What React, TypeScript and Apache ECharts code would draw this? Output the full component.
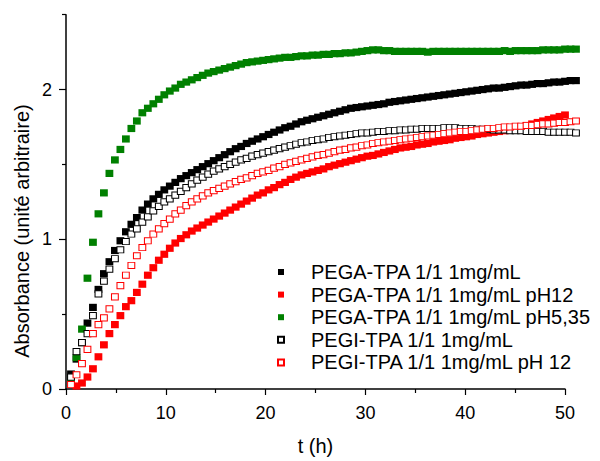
import React, { useEffect, useRef } from "react";
import * as echarts from "echarts";

const times = [
  0.5, 1.05, 1.6, 2.15, 2.7, 3.25, 3.8, 4.35, 4.9, 5.45,
  6.0, 6.55, 7.1, 7.65, 8.2, 8.75, 9.3, 9.85, 10.4, 10.95,
  11.5, 12.05, 12.6, 13.15, 13.7, 14.25, 14.8, 15.35, 15.9, 16.45,
  17.0, 17.55, 18.1, 18.65, 19.2, 19.75, 20.3, 20.85, 21.4, 21.95,
  22.5, 23.05, 23.6, 24.15, 24.7, 25.25, 25.8, 26.35, 26.9, 27.45,
  28.0, 28.55, 29.1, 29.65, 30.2, 30.75, 31.3, 31.85, 32.4, 32.95,
  33.5, 34.05, 34.6, 35.15, 35.7, 36.25, 36.8, 37.35, 37.9, 38.45,
  39.0, 39.55, 40.1, 40.65, 41.2, 41.75, 42.3, 42.85, 43.4, 43.95,
  44.5, 45.05, 45.6, 46.15, 46.7, 47.25, 47.8, 48.35, 48.9, 49.45,
  50.0, 50.55, 51.1,
];

const pegaTpa = [
  0.10, 0.20, 0.31, 0.44, 0.545, 0.665, 0.77, 0.85, 0.925, 0.99,
  1.05, 1.10, 1.145, 1.195, 1.235, 1.27, 1.30, 1.33, 1.355, 1.38,
  1.405, 1.425, 1.445, 1.465, 1.485, 1.505, 1.525, 1.545, 1.565, 1.585,
  1.605, 1.62, 1.64, 1.655, 1.67, 1.685, 1.70, 1.715, 1.73, 1.745,
  1.755, 1.77, 1.785, 1.795, 1.805, 1.815, 1.825, 1.835, 1.845, 1.855,
  1.865, 1.875, 1.88, 1.885, 1.89, 1.895, 1.90, 1.905, 1.915, 1.92,
  1.925, 1.93, 1.935, 1.94, 1.945, 1.95, 1.955, 1.96, 1.965, 1.97,
  1.975, 1.98, 1.985, 1.99, 1.995, 2.0, 2.005, 2.01, 2.01, 2.015,
  2.02, 2.025, 2.03, 2.03, 2.035, 2.04, 2.04, 2.045, 2.05, 2.05,
  2.055, 2.06, 2.06,
];

const pegaTpaPH12 = [
  null, 0.02, 0.04, 0.08, 0.135, 0.215, 0.295, 0.37, 0.43, 0.49,
  0.55, 0.59, 0.645, 0.70, 0.76, 0.81, 0.86, 0.90, 0.94, 0.975,
  1.005, 1.03, 1.055, 1.075, 1.095, 1.115, 1.135, 1.155, 1.175, 1.195,
  1.215, 1.235, 1.255, 1.275, 1.295, 1.31, 1.33, 1.345, 1.365, 1.38,
  1.40, 1.415, 1.43, 1.44, 1.45, 1.46, 1.47, 1.485, 1.495, 1.505,
  1.515, 1.525, 1.535, 1.545, 1.555, 1.56, 1.57, 1.58, 1.59, 1.60,
  1.61, 1.615, 1.62, 1.63, 1.635, 1.64, 1.65, 1.655, 1.66, 1.665,
  1.675, 1.68, 1.685, 1.69, 1.70, 1.705, 1.71, 1.715, 1.72, 1.725,
  1.735, 1.74, 1.75, 1.76, 1.77, 1.78, 1.79, 1.80, 1.81, 1.82,
  1.83, null, null,
];

const pegaTpaPH535 = [
  0.07, 0.21, 0.40, 0.74, 0.98, 1.17, 1.31, 1.44, 1.53, 1.60,
  1.67, 1.74, 1.79, 1.845, 1.875, 1.905, 1.935, 1.965, 1.99, 2.01,
  2.035, 2.05, 2.065, 2.08, 2.095, 2.11, 2.12, 2.13, 2.14, 2.15,
  2.16, 2.17, 2.18, 2.185, 2.19, 2.195, 2.20, 2.205, 2.21, 2.215,
  2.215, 2.22, 2.225, 2.225, 2.23, 2.23, 2.235, 2.235, 2.24, 2.24,
  2.245, 2.245, 2.25, 2.255, 2.26, 2.265, 2.265, 2.26, 2.26, 2.255,
  2.255, 2.255, 2.255, 2.255, 2.255, 2.25, 2.255, 2.255, 2.255, 2.255,
  2.255, 2.255, 2.255, 2.255, 2.255, 2.255, 2.255, 2.255, 2.255, 2.26,
  2.255, 2.26, 2.26, 2.26, 2.26, 2.26, 2.265, 2.265, 2.265, 2.265,
  2.27, 2.27, 2.27,
];

const pegiTpa = [
  0.08, 0.25, 0.31, 0.37, 0.49, 0.635, 0.72, 0.80, 0.87, 0.93,
  0.985, 1.035, 1.07, 1.115, 1.15, 1.19, 1.22, 1.25, 1.27, 1.295,
  1.32, 1.345, 1.37, 1.395, 1.415, 1.435, 1.455, 1.47, 1.485, 1.50,
  1.515, 1.53, 1.54, 1.555, 1.565, 1.575, 1.585, 1.595, 1.605, 1.615,
  1.625, 1.635, 1.645, 1.65, 1.66, 1.665, 1.67, 1.68, 1.685, 1.69,
  1.695, 1.70, 1.705, 1.71, 1.71, 1.715, 1.72, 1.72, 1.725, 1.725,
  1.73, 1.73, 1.735, 1.735, 1.74, 1.74, 1.74, 1.74, 1.745, 1.745,
  1.745, 1.74, 1.74, 1.74, 1.735, 1.735, 1.735, 1.73, 1.73, 1.73,
  1.725, 1.725, 1.725, 1.72, 1.72, 1.72, 1.72, 1.715, 1.715, 1.715,
  1.715, 1.715, 1.71,
];

const pegiTpaPH12 = [
  0.03, 0.095, 0.17, 0.265, 0.37, 0.43, 0.475, 0.535, 0.615, 0.69,
  0.76, 0.825, 0.89, 0.945, 0.99, 1.035, 1.07, 1.105, 1.135, 1.17,
  1.195, 1.225, 1.25, 1.27, 1.29, 1.31, 1.325, 1.34, 1.355, 1.37,
  1.385, 1.40, 1.41, 1.425, 1.44, 1.45, 1.46, 1.475, 1.485, 1.50,
  1.51, 1.52, 1.53, 1.54, 1.55, 1.56, 1.565, 1.575, 1.585, 1.595,
  1.60, 1.61, 1.615, 1.625, 1.63, 1.64, 1.645, 1.65, 1.655, 1.66,
  1.665, 1.67, 1.675, 1.68, 1.685, 1.69, 1.695, 1.70, 1.705, 1.71,
  1.715, 1.72, 1.72, 1.725, 1.73, 1.735, 1.74, 1.74, 1.745, 1.75,
  1.75, 1.755, 1.755, 1.76, 1.76, 1.765, 1.77, 1.77, 1.775, 1.78,
  1.78, 1.785, 1.79,
];

const seriesNames = [
  "PEGA-TPA 1/1 1mg/mL",
  "PEGA-TPA 1/1 1mg/mL pH12",
  "PEGA-TPA 1/1 1mg/mL pH5,35",
  "PEGI-TPA 1/1 1mg/mL",
  "PEGI-TPA 1/1 1mg/mL pH 12",
];

const xTicks = [0, 10, 20, 30, 40, 50];
const yMajorTicks = [0, 1, 2];
const yMinorTicks = [0.5, 1.5, 2.5];
const yTitle = "Absorbance (unité arbitraire)";
const xTitle = "t (h)";

const FONT = "'Liberation Sans', Arial, sans-serif";

function pairs(values: (number | null)[]) {
  const out: number[][] = [];
  values.forEach((v, i) => {
    if (v !== null && v !== undefined) out.push([times[i], v]);
  });
  return out;
}

export default function App() {
  const ref = useRef<HTMLDivElement>(null);
  useEffect(() => {
    if (!ref.current) return;
    const chart = echarts.init(ref.current, null, { renderer: "svg" });
    const sym: [number, number] = [7.8, 7.2];
    const symOpen: [number, number] = [6.8, 6.2];
    const filled = (name: string, color: string, vals: (number | null)[]) => ({
      name,
      type: "scatter",
      data: pairs(vals),
      symbol: "rect",
      symbolSize: sym,
      clip: false,
      itemStyle: { color, opacity: 1 },
      emphasis: { disabled: true },
    });
    const open = (name: string, color: string, vals: (number | null)[]) => ({
      name,
      type: "scatter",
      data: pairs(vals),
      symbol: "rect",
      symbolSize: symOpen,
      clip: false,
      itemStyle: { color: "#ffffff", borderColor: color, borderWidth: 1, opacity: 1 },
      emphasis: { disabled: true },
    });
    const txt = { fontFamily: FONT, color: "#000", fontWeight: "normal" as const };
    chart.setOption({
      animation: false,
      backgroundColor: "#ffffff",
      grid: { left: 66, right: 35, top: 14.7, bottom: 67, containLabel: false },
      graphic: [
        {
          type: "text",
          x: 22,
          y: 231,
          rotation: Math.PI / 2,
          silent: true,
          style: {
            text: yTitle,
            fontFamily: FONT,
            fontSize: 20,
            fill: "#000",
            align: "center",
            verticalAlign: "middle",
          },
        },
      ],
      legend: {
        orient: "vertical",
        left: 277,
        top: 262,
        padding: 0,
        itemWidth: 6,
        itemHeight: 6,
        itemGap: 2.6,
        selectedMode: false,
        data: seriesNames,
        textStyle: { ...txt, fontSize: 20, padding: [0, 0, 0, 22] },
      },
      xAxis: {
        type: "value",
        min: 0,
        max: 50,
        interval: 10,
        name: xTitle,
        nameLocation: "middle",
        nameGap: 47,
        nameTextStyle: { ...txt, fontSize: 20 },
        axisLine: { show: true, onZero: false, lineStyle: { color: "#000", width: 1.5 } },
        axisTick: { show: true, length: 6, lineStyle: { color: "#000", width: 1.2 } },
        minorTick: { show: true, splitNumber: 2, length: 4, lineStyle: { color: "#000", width: 1.2 } },
        axisLabel: { ...txt, fontSize: 18, margin: 15, customValues: xTicks },
        splitLine: { show: false },
      },
      yAxis: [
        {
          type: "value",
          min: 0,
          max: 2.5,
          position: "left",
          axisLine: { show: true, onZero: false, lineStyle: { color: "#000", width: 1.5 } },
          axisTick: { show: true, length: 7, customValues: yMajorTicks, lineStyle: { color: "#000", width: 1.2 } },
          axisLabel: { ...txt, fontSize: 18, margin: 14, customValues: yMajorTicks },
          splitLine: { show: false },
        },
        {
          type: "value",
          min: 0,
          max: 2.5,
          position: "left",
          axisLine: { show: false },
          axisTick: { show: true, length: 4, customValues: yMinorTicks, lineStyle: { color: "#000", width: 1.2 } },
          axisLabel: { show: false },
          splitLine: { show: false },
        },
      ],
      series: [
        filled(seriesNames[0], "#000000", pegaTpa),
        filled(seriesNames[1], "#ff0000", pegaTpaPH12),
        filled(seriesNames[2], "#008000", pegaTpaPH535),
        open(seriesNames[3], "#000000", pegiTpa),
        open(seriesNames[4], "#ff0000", pegiTpaPH12),
      ],
    });
    return () => chart.dispose();
  }, []);
  return (
    <div
      ref={ref}
      style={{ position: "fixed", left: 0, top: 0, width: 600, height: 461, background: "#fff" }}
    />
  );
}
